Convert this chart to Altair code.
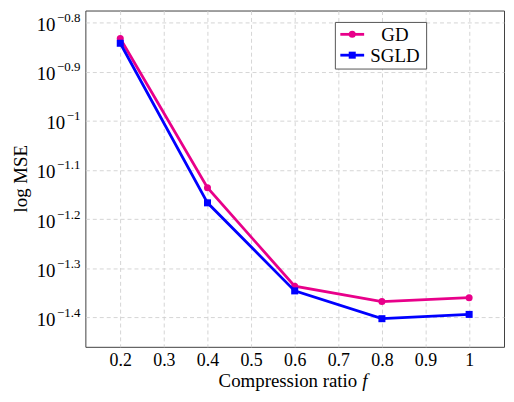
import altair as alt
import pandas as pd

# valores
fracciones = [0.2, 0.4, 0.6, 0.8, 1.0]
mse_gd = [0.1469, 0.0731, 0.0461, 0.0429, 0.0437]
mse_sgld = [0.1437, 0.0681, 0.0451, 0.0396, 0.0404]

ticks_x = [0.2, 0.3, 0.4, 0.5, 0.6, 0.7, 0.8, 0.9, 1.0]
exponentes_y = ["-0.8", "-0.9", "-1", "-1.1", "-1.2", "-1.3", "-1.4"]

ROSA = "#e8008a"
AZUL = "#0000ff"
FUENTE = "Liberation Serif"
W, H = 422, 339

ticks_y = [10 ** float(e) for e in exponentes_y]
escala_x = alt.Scale(domain=[0.12, 1.08], nice=False, zero=False)
escala_y = alt.Scale(type="log", domain=[10 ** -1.4595, 10 ** -0.776], nice=False)

eje_x = alt.Axis(
    values=ticks_x, labelExpr="datum.value == 1 ? '1' : format(datum.value, '.1f')",
    grid=True, gridDash=[4, 3], gridColor="#d0d0d0", gridWidth=0.9,
    domain=False, ticks=False, labelFont=FUENTE, labelFontSize=18,
    labelColor="black", labelPadding=5, title=None,
)
eje_y = alt.Axis(
    values=ticks_y, labels=False, grid=True, gridDash=[4, 3], gridColor="#d0d0d0",
    gridWidth=0.9, domain=False, ticks=False, title=None,
)

df = pd.DataFrame({
    "f": fracciones * 2,
    "mse": mse_gd + mse_sgld,
    "metodo": ["GD"] * len(mse_gd) + ["SGLD"] * len(mse_sgld),
})


def serie(nombre, color, forma):
    base = alt.Chart(df[df.metodo == nombre]).encode(
        x=alt.X("f:Q", scale=escala_x, axis=eje_x),
        y=alt.Y("mse:Q", scale=escala_y, axis=eje_y),
    )
    linea = base.mark_line(color=color, strokeWidth=2.8)
    puntos = base.mark_point(shape=forma, filled=True, color=color, size=50, opacity=1)
    return [linea, puntos]


# etiquetas del eje y con exponente
etiquetas = pd.DataFrame({
    "v": ticks_y,
    "exp": [e.replace("-", "\u2212") for e in exponentes_y],
    "corto": [len(e) <= 2 for e in exponentes_y],
})


def ancho_exp(s, size=13):
    return sum(0.564 if c == "\u2212" else 0.25 if c == "." else 0.5 for c in s) * size


capas_y = [
    alt.Chart(etiquetas).mark_text(
        font=FUENTE, fontSize=13, align="right", baseline="alphabetic", dy=-0.5
    ).encode(
        y=alt.Y("v:Q", scale=escala_y, axis=eje_y), x=alt.value(-5), text="exp:N"
    )
]
for corto, muestra in [(True, "\u22121"), (False, "\u22120.8")]:
    capas_y.append(
        alt.Chart(etiquetas[etiquetas.corto == corto]).mark_text(
            font=FUENTE, fontSize=19, align="right", baseline="alphabetic", dy=8.5, text="10"
        ).encode(
            y=alt.Y("v:Q", scale=escala_y, axis=eje_y),
            x=alt.value(-5 - ancho_exp(muestra) - 1.5),
        )
    )

uno = pd.DataFrame({"a": [0]})

# leyenda
leyenda = [
    alt.Chart(uno).mark_rect(fill="white", stroke="#555555", strokeWidth=1).encode(
        x=alt.value(252), x2=alt.value(344), y=alt.value(12), y2=alt.value(59)
    )
]
for fila, (nombre, color, forma) in enumerate([("GD", ROSA, "circle"), ("SGLD", AZUL, "square")]):
    yy = 24 + fila * 21
    leyenda += [
        alt.Chart(uno).mark_rule(color=color, strokeWidth=2.8).encode(
            x=alt.value(257), x2=alt.value(281), y=alt.value(yy)
        ),
        alt.Chart(uno).mark_point(shape=forma, filled=True, color=color, size=50, opacity=1).encode(
            x=alt.value(269), y=alt.value(yy)
        ),
        alt.Chart(uno).mark_text(font=FUENTE, fontSize=19, align="center", baseline="middle").encode(
            x=alt.value(312), y=alt.value(yy + 1), text=alt.value(nombre)
        ),
    ]

titulos = [
    alt.Chart(uno).mark_text(font=FUENTE, fontSize=19, align="right", baseline="alphabetic").encode(
        x=alt.value(274), y=alt.value(H + 40), text=alt.value("Compression ratio")
    ),
    alt.Chart(uno).mark_text(font=FUENTE, fontSize=19, fontStyle="italic", align="left", baseline="alphabetic").encode(
        x=alt.value(279), y=alt.value(H + 40), text=alt.value("f")
    ),
    alt.Chart(uno).mark_text(font=FUENTE, fontSize=19, angle=270, align="center", baseline="middle").encode(
        x=alt.value(-65), y=alt.value(H / 2), text=alt.value("log MSE")
    ),
]

chart = alt.layer(
    *serie("GD", ROSA, "circle"), *serie("SGLD", AZUL, "square"), *capas_y, *leyenda, *titulos
).properties(
    width=W, height=H,
    padding={"left": 78, "top": 1, "right": 2, "bottom": 46},
    autosize=alt.AutoSizeParams(type="none"),
).configure_view(stroke="#404040", strokeWidth=1)

chart.save("out.html", embed_options={"renderer": "svg", "actions": False})
